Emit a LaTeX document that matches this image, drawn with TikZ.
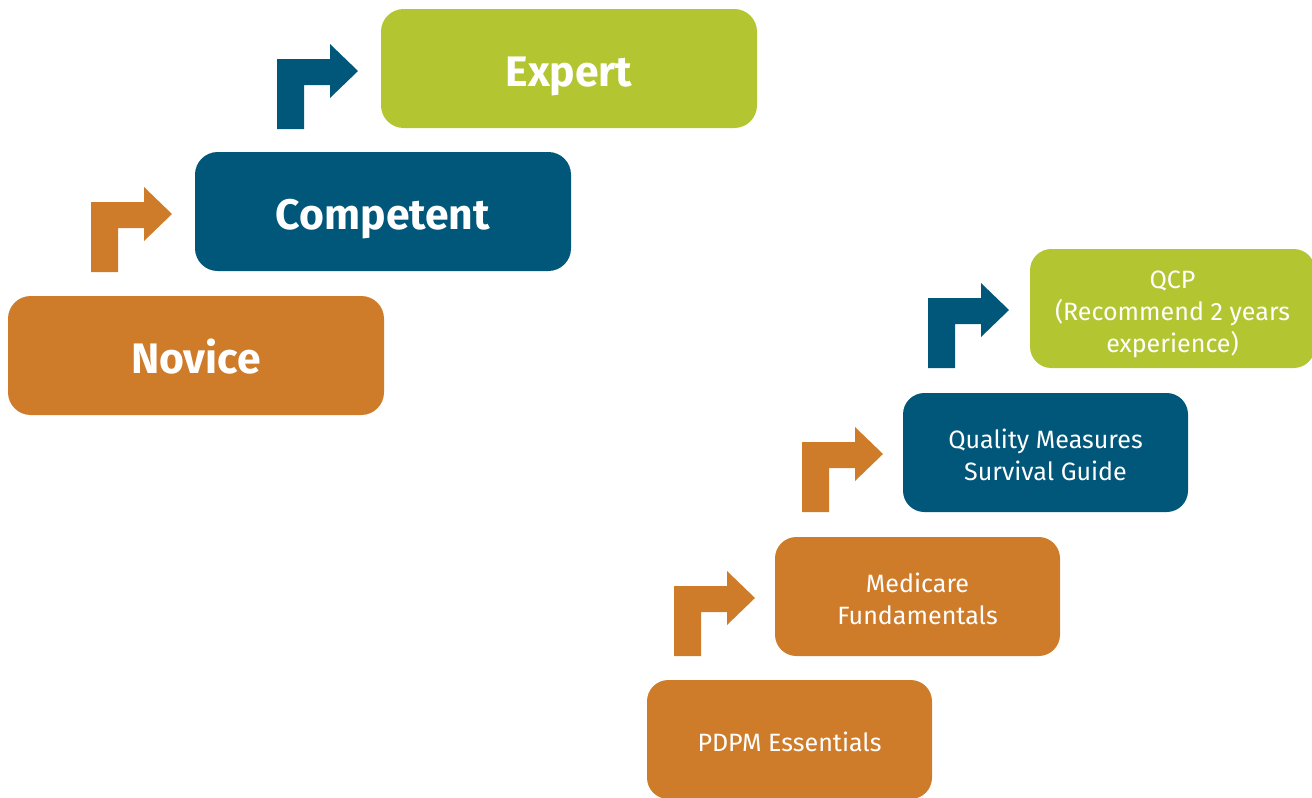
\documentclass[tikz,border=0pt]{standalone}
\usepackage{fontspec}
\setmainfont{Fira Sans}
\definecolor{orng}{HTML}{CF7C2A}
\definecolor{teal}{HTML}{01577A}
\definecolor{lime}{HTML}{B3C632}
\begin{document}
\begin{tikzpicture}[x=0.75pt,y=-0.75pt,
  stage/.style={rounded corners=17pt, minimum width=282pt, minimum height=89.25pt, inner sep=0pt, text=white, text height=27pt, text depth=0pt, font=\fontsize{32}{38}\selectfont\bfseries},
  course/.style={rounded corners=16pt, minimum width=213.75pt, minimum height=89.25pt, inner sep=0pt},
  ctext/.style={text=white, align=center, inner sep=0pt, font=\fontsize{18.8}{24}\selectfont},
  bentarrow/.pic={\fill[pic actions] (0,0) -- (0,-70) -- (53,-70) -- (53,-85) -- (81,-58) -- (53,-31) -- (53,-44) -- (27,-44) -- (27,0) -- cycle;}
]
\useasboundingbox (0,0) rectangle (1312,797);
\node[stage, fill=lime] (expert) at (569,68.5) {Expert};
\node[stage, fill=teal] (competent) at (383,211.5) {Competent};
\node[stage, fill=orng] (novice) at (196,355.5) {Novice};
\node[course, fill=lime, label={[ctext, yshift=-4.5pt]center:QCP\\(Recommend 2 years\\experience)}] (qcp) at (1172.5,308.5) {};
\node[course, fill=teal, label={[ctext, yshift=-1.5pt]center:Quality Measures\\Survival Guide}] (qm) at (1045.5,452.5) {};
\node[course, fill=orng, label={[ctext, yshift=-1.5pt]center:Medicare\\Fundamentals}] (med) at (917.5,596.5) {};
\node[course, fill=orng, label={[ctext, yshift=-1.5pt]center:PDPM Essentials}] (pdpm) at (789.5,739.5) {};
\pic[fill=teal] at (277,129) {bentarrow};
\pic[fill=orng] at (91,272) {bentarrow};
\pic[fill=teal] at (928,368) {bentarrow};
\pic[fill=orng] at (802,512) {bentarrow};
\pic[fill=orng] at (674,656) {bentarrow};
\end{tikzpicture}
\end{document}
